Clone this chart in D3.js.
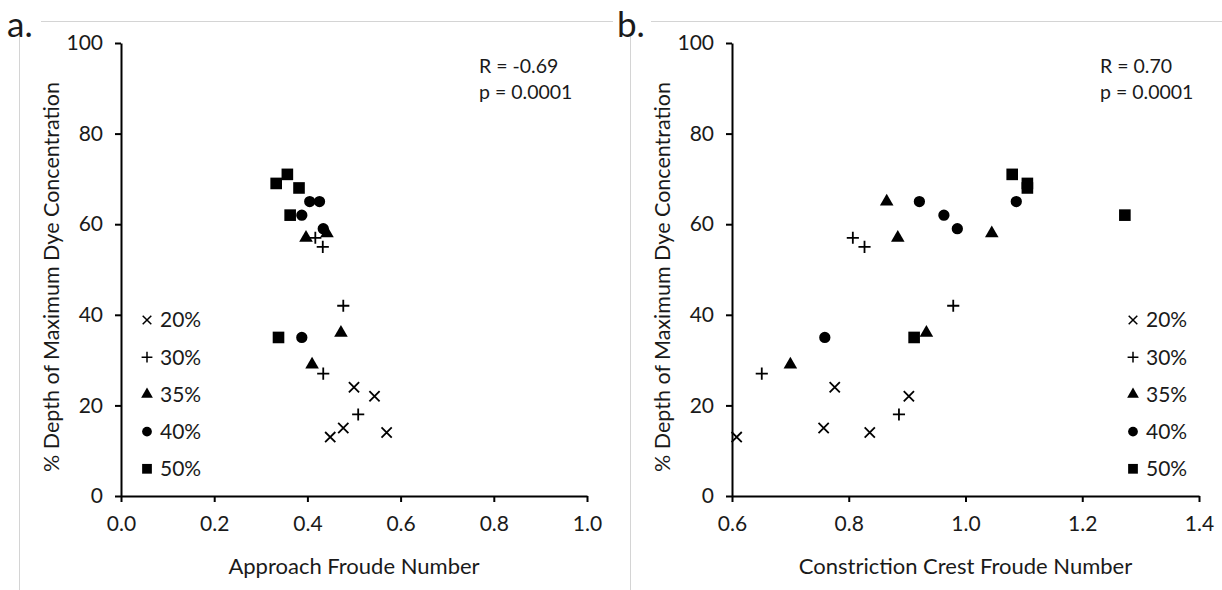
<!DOCTYPE html>
<html>
<head>
<meta charset="utf-8">
<script src="https://cdn.jsdelivr.net/npm/d3@7"></script>
<style>
  body { margin: 0; background: white; }
  svg { display: block; }
  text { font-family: Lato, "Open Sans", sans-serif; fill: #1a1a1a; }
</style>
</head>
<body>
<svg id="chart" width="1222" height="590"></svg>
<script>
// series labels (legend order)
const seriesNames = ["20%", "30%", "35%", "40%", "50%"];

// % depth of maximum dye concentration, per series
const depth20 = [13, 14, 15, 22, 24];
const depth30 = [18, 27, 42, 55, 57];
const depth35 = [29, 36, 57, 58, 65];
const depth40 = [35, 59, 62, 65, 65];
const depth50 = [35, 62, 68, 69, 71];

// approach Froude number (panel a), same order as depths
// (the 65% triangle is hidden in panel a, so it has no readable value)
const approach20 = [0.449, 0.570, 0.477, 0.544, 0.500];
const approach30 = [0.509, 0.434, 0.477, 0.433, 0.417];
const approach35 = [0.410, 0.472, 0.397, 0.442, null];
const approach40 = [0.388, 0.434, 0.388, 0.405, 0.426];
const approach50 = [0.338, 0.363, 0.382, 0.333, 0.357];

// constriction crest Froude number (panel b)
const crest20 = [0.608, 0.836, 0.757, 0.903, 0.776];
const crest30 = [0.886, 0.651, 0.979, 0.827, 0.807];
const crest35 = [0.700, 0.933, 0.884, 1.045, 0.865];
const crest40 = [0.759, 0.986, 0.963, 0.921, 1.087];
const crest50 = [0.912, 1.273, 1.106, 1.106, 1.080];

const yTicks = [0, 20, 40, 60, 80, 100];
const approachTicks = [0, 0.2, 0.4, 0.6, 0.8, 1.0];
const crestTicks = [0.6, 0.8, 1.0, 1.2, 1.4];

const statsA = ["R = -0.69", "p = 0.0001"];
const statsB = ["R = 0.70", "p = 0.0001"];

const depths = [depth20, depth30, depth35, depth40, depth50];
const approachX = [approach20, approach30, approach35, approach40, approach50];
const crestX = [crest20, crest30, crest35, crest40, crest50];

// marker per series: times, plus, triangle, circle, square
const symbolTypes = [d3.symbolTimes, d3.symbolPlus, d3.symbolTriangle, d3.symbolCircle, d3.symbolSquare];
const symbolSizes = [70, 50, 80, 100, 135];
const legendSizes = [50, 40, 60, 75, 95];
const isStroke = [true, true, false, false, false];

const svg = d3.select("#chart");

// light frame lines around the panels
svg.append("rect").attr("x", 19.5).attr("y", 21.5).attr("width", 1400).attr("height", 800)
    .attr("fill", "none").attr("stroke", "#d4d4d4");
svg.append("rect").attr("x", 630.5).attr("y", 21.5).attr("width", 1400).attr("height", 800)
    .attr("fill", "white").attr("stroke", "#d4d4d4");

function drawPanel(opts) {
    let g = svg.append("g");

    let x = d3.scaleLinear().domain(opts.xDomain).range(opts.xRange);
    let y = d3.scaleLinear().domain([0, 100]).range([496, 43]);

    // panel letter with white backing
    g.append("rect").attr("x", opts.labelX - 4).attr("y", 0).attr("width", 38).attr("height", 36).attr("fill", "white");
    g.append("text").attr("x", opts.labelX).attr("y", 37)
        .style("font-size", "35px").text(opts.label);

    let yAxis = g.append("g")
        .attr("transform", `translate(${opts.xRange[0]},0)`)
        .call(d3.axisLeft(y).tickValues(yTicks).tickSize(6).tickPadding(12).tickSizeOuter(0));

    let xAxis = g.append("g")
        .attr("transform", "translate(0,496)")
        .call(d3.axisBottom(x).tickValues(opts.xTicks).tickFormat(d3.format(".1f"))
            .tickSize(6).tickPadding(14).tickSizeOuter(0));

    [yAxis, xAxis].forEach(a => {
        a.select(".domain").attr("stroke", "#000").attr("stroke-width", 2);
        a.selectAll(".tick line").attr("stroke", "#000").attr("stroke-width", 2);
        a.selectAll(".tick text").attr("fill", "#1a1a1a").style("font-size", "21px")
            .style("font-family", "Lato, 'Open Sans', sans-serif");
    });

    // axis titles
    g.append("text")
        .attr("transform", `translate(${opts.yTitleX},277) rotate(-90)`)
        .attr("text-anchor", "middle").attr("dy", "0.35em")
        .style("font-size", "21.5px")
        .text("% Depth of Maximum Dye Concentration");

    g.append("text")
        .attr("x", (opts.xRange[0] + opts.xRange[1]) / 2).attr("y", 566)
        .attr("text-anchor", "middle").attr("dy", "0.35em")
        .style("font-size", "22px")
        .text(opts.xTitle);

    // R and p annotation
    g.selectAll(".stat").data(opts.stats).enter().append("text")
        .attr("x", opts.statX).attr("y", (d, i) => 66 + i * 26)
        .attr("dy", "0.35em").style("font-size", "19.5px").text(d => d);

    // points
    seriesNames.forEach((name, s) => {
        let pts = depths[s].map((dv, i) => ({ x: opts.xs[s][i], y: dv }))
            .filter(d => d.x != null);
        let sym = d3.symbol().type(symbolTypes[s]).size(symbolSizes[s]);
        g.selectAll(`.pt${s}`).data(pts).enter().append("path")
            .attr("transform", d => `translate(${x(d.x)},${y(d.y)})`)
            .attr("d", sym)
            .attr("fill", isStroke[s] ? "none" : "#000")
            .attr("stroke", isStroke[s] ? "#000" : "none")
            .attr("stroke-width", 1.8);
    });

    // legend
    let legend = g.append("g");
    seriesNames.forEach((name, s) => {
        let ly = 320 + s * 37.2;
        let sym = d3.symbol().type(symbolTypes[s]).size(legendSizes[s]);
        legend.append("path")
            .attr("transform", `translate(${opts.legendX},${ly})`)
            .attr("d", sym)
            .attr("fill", isStroke[s] ? "none" : "#000")
            .attr("stroke", isStroke[s] ? "#000" : "none")
            .attr("stroke-width", 1.5);
        legend.append("text")
            .attr("x", opts.legendX + 13).attr("y", ly).attr("dy", "0.35em")
            .style("font-size", "21px").text(name);
    });
}

drawPanel({
    label: "a.", labelX: 7,
    xDomain: [0, 1], xRange: [121, 587], xTicks: approachTicks,
    xs: approachX, xTitle: "Approach Froude Number",
    stats: statsA, statX: 479, legendX: 147, yTitleX: 51
});

drawPanel({
    label: "b.", labelX: 617,
    xDomain: [0.6, 1.4], xRange: [732, 1199], xTicks: crestTicks,
    xs: crestX, xTitle: "Constriction Crest Froude Number",
    stats: statsB, statX: 1100, legendX: 1133, yTitleX: 662
});
</script>
</body>
</html>
